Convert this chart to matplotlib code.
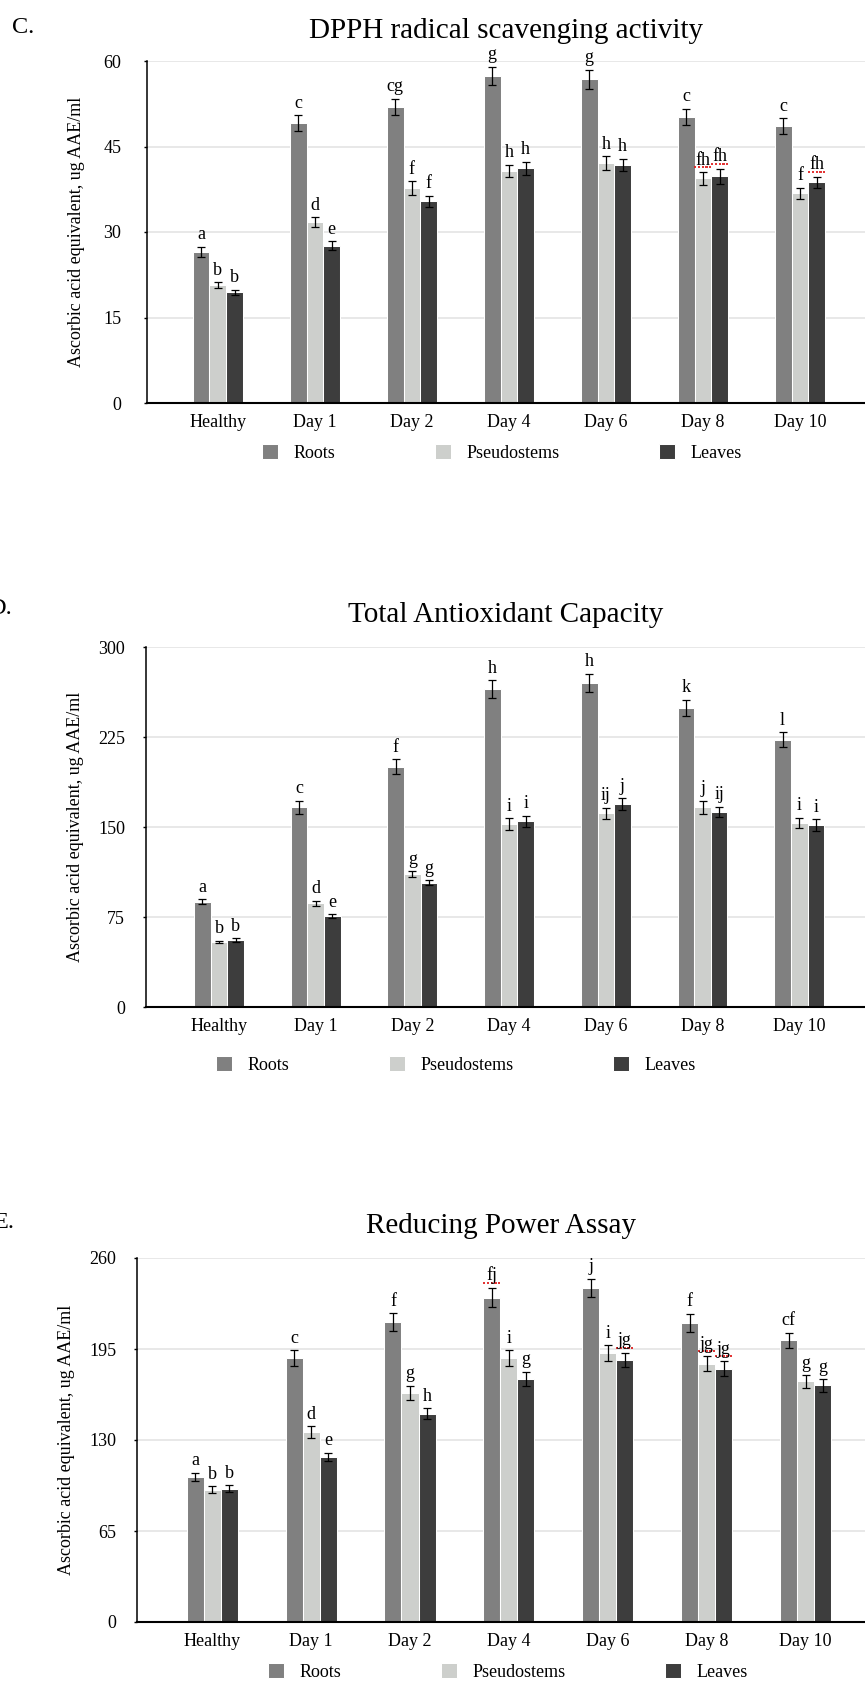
import numpy as np
import matplotlib
matplotlib.use('Agg')
import matplotlib.pyplot as plt
from matplotlib.path import Path
from matplotlib.transforms import offset_copy

plt.rcParams['font.family'] = ['Liberation Serif', 'DejaVu Serif']

days = ['Healthy', 'Day 1', 'Day 2', 'Day 4', 'Day 6', 'Day 8', 'Day 10']
series_names = ['Roots', 'Pseudostems', 'Leaves']
colors = ['#808080', '#cdcfcc', '#3d3d3d']

# C. DPPH radical scavenging activity
dpph_roots = [26.5, 49.1, 51.9, 57.4, 56.8, 50.2, 48.6]
dpph_pseudo = [20.7, 31.7, 37.7, 40.7, 42.1, 39.4, 36.8]
dpph_leaves = [19.4, 27.6, 35.4, 41.2, 41.8, 39.8, 38.7]
dpph_roots_err = [0.9, 1.35, 1.45, 1.6, 1.65, 1.4, 1.35]
dpph_pseudo_err = [0.5, 0.9, 1.2, 1.1, 1.15, 1.1, 0.95]
dpph_leaves_err = [0.5, 0.75, 0.95, 1.15, 1.05, 1.3, 1.0]
dpph_letters = [['a', 'c', 'cg', 'g', 'g', 'c', 'c'],
                ['b', 'd', 'f', 'h', 'h', 'fh', 'f'],
                ['b', 'e', 'f', 'h', 'h', 'fh', 'fh']]
dpph_flags = [(1, 5), (2, 5), (2, 6)]

# D. Total antioxidant capacity
tac_roots = [87.7, 166.4, 200.4, 265.0, 270.0, 249.1, 222.7]
tac_pseudo = [54.3, 86.3, 110.8, 152.5, 161.4, 166.4, 153.6]
tac_leaves = [55.7, 75.7, 103.5, 154.7, 169.2, 162.5, 151.7]
tac_roots_err = [2.2, 5.3, 6.0, 7.1, 7.9, 6.8, 6.4]
tac_pseudo_err = [1.1, 2.2, 2.4, 4.6, 4.5, 5.3, 4.2]
tac_leaves_err = [1.4, 1.7, 2.1, 4.5, 4.9, 4.5, 4.7]
tac_letters = [['a', 'c', 'f', 'h', 'h', 'k', 'l'],
               ['b', 'd', 'g', 'i', 'ij', 'j', 'i'],
               ['b', 'e', 'g', 'i', 'j', 'ij', 'i']]
tac_flags = []

# E. Reducing power assay
rpa_roots = [103.6, 188.6, 214.3, 231.7, 238.6, 213.6, 201.2]
rpa_pseudo = [94.5, 135.7, 163.8, 188.6, 192.1, 184.5, 171.9]
rpa_leaves = [95.2, 117.9, 148.8, 173.8, 187.4, 181.0, 169.0]
rpa_roots_err = [2.9, 5.4, 6.3, 6.9, 6.5, 6.5, 5.5]
rpa_pseudo_err = [2.4, 4.0, 5.0, 5.6, 5.7, 5.2, 4.4]
rpa_leaves_err = [2.4, 3.0, 3.9, 5.0, 4.9, 5.2, 4.5]
rpa_letters = [['a', 'c', 'f', 'fj', 'j', 'f', 'cf'],
               ['b', 'd', 'g', 'i', 'i', 'jg', 'g'],
               ['b', 'e', 'h', 'g', 'jg', 'jg', 'g']]
rpa_flags = [(0, 3), (2, 4), (1, 5), (2, 5)]

W, H = 865, 1689
fig = plt.figure(figsize=(W / 100, H / 100), dpi=100)

# dotted red "spell check" underline
segs = []
codes = []
for k in range(5):
    segs += [(-1 + k * 0.42, 0), (-1 + k * 0.42 + 0.25, 0)]
    codes += [Path.MOVETO, Path.LINETO]
squiggle = Path(segs, codes)


def draw_panel(rect, vals, errs, letters, flags, ticks, title, xlim, ypad, title_pad):
    ax = fig.add_axes(rect)
    x = np.arange(len(days))
    step = 0.172
    for i in range(3):
        xs = x + (i - 1) * step
        ax.bar(xs, vals[i], width=step, color=colors[i], edgecolor='white',
               linewidth=0.75, label=series_names[i], zorder=2)
        ax.errorbar(xs, vals[i], yerr=errs[i], fmt='none', ecolor='black',
                    elinewidth=0.9, capsize=3.2, capthick=0.9, zorder=3)
        for j in range(len(x)):
            top = vals[i][j] + errs[i][j]
            ax.annotate(letters[i][j], (xs[j], top), xytext=(0, 2.5),
                        textcoords='offset points', ha='center', va='bottom',
                        fontsize=13, annotation_clip=False)
            if (i, j) in flags:
                ax.plot([xs[j]], [top], marker=squiggle, markersize=13,
                        color='#e02020', markeredgewidth=1.3, clip_on=False,
                        transform=offset_copy(ax.transData, fig=fig, x=0, y=3.6, units='points'))
    ax.set_xlim(*xlim)
    ax.set_ylim(ticks[0], ticks[-1])
    ax.set_yticks(ticks)
    ax.set_xticks(x)
    ax.set_xticklabels(days)
    ax.yaxis.grid(True, color='#e4e4e4', linewidth=1.2)
    ax.set_axisbelow(True)
    for s in ['top', 'right']:
        ax.spines[s].set_visible(False)
    ax.spines['left'].set_linewidth(1.1)
    ax.spines['bottom'].set_linewidth(1.5)
    ax.tick_params(axis='x', length=0, pad=8, labelsize=13)
    ax.tick_params(axis='y', length=2.5, width=1, pad=ypad, labelsize=13)
    ax.text(-0.0975, 0.5, 'Ascorbic acid equivalent, ug AAE/ml', transform=ax.transAxes,
            rotation=90, ha='center', va='center', fontsize=13)
    ax.set_title(title, fontsize=21, pad=title_pad)
    return ax


def px_rect(left, top, bottom):
    return [left / W, 1 - bottom / H, 1 - left / W, (bottom - top) / H]


ax_c = draw_panel(px_rect(147, 61, 403),
                  [dpph_roots, dpph_pseudo, dpph_leaves],
                  [dpph_roots_err, dpph_pseudo_err, dpph_leaves_err],
                  dpph_letters, dpph_flags, [0, 15, 30, 45, 60],
                  'DPPH radical scavenging activity', (-0.73, 6.67), 16, 16.5)
ax_d = draw_panel(px_rect(146, 647, 1007),
                  [tac_roots, tac_pseudo, tac_leaves],
                  [tac_roots_err, tac_pseudo_err, tac_leaves_err],
                  tac_letters, tac_flags, [0, 75, 150, 225, 300],
                  'Total Antioxidant Capacity', (-0.755, 6.68), 12.5, 18.0)
ax_e = draw_panel(px_rect(137, 1258, 1622),
                  [rpa_roots, rpa_pseudo, rpa_leaves],
                  [rpa_roots_err, rpa_pseudo_err, rpa_leaves_err],
                  rpa_letters, rpa_flags, [0, 65, 130, 195, 260],
                  'Reducing Power Assay', (-0.76, 6.6), 12.5, 18.0)

for ax, cx, cy in [(ax_c, 502, 453), (ax_d, 456, 1065), (ax_e, 508, 1672)]:
    h, l = ax.get_legend_handles_labels()
    fig.legend(h, l, loc='center', bbox_to_anchor=(cx / W, 1 - cy / H), ncol=3,
               frameon=False, fontsize=13, handlelength=0.9, handleheight=0.9,
               handletextpad=0.85, columnspacing=5.5)

# panel letters, partly cut off at the left edge as in the source figure
fig.text(12 / W, 1 - 33 / H, 'C.', fontsize=17.5, va='baseline', ha='left')
fig.text(-12 / W, 1 - 614 / H, 'D.', fontsize=17.5, va='baseline', ha='left')
fig.text(-7 / W, 1 - 1228 / H, 'E.', fontsize=17.5, va='baseline', ha='left')

fig.savefig('out.png', dpi=100)
